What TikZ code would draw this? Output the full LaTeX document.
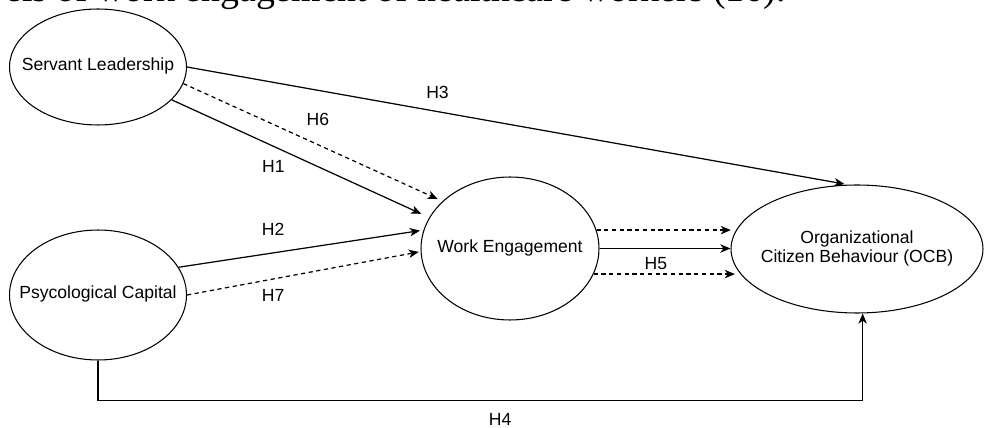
\documentclass[tikz,border=0pt]{standalone}
\usepackage{fontspec}
\setmainfont{Liberation Serif}
\setsansfont{Liberation Sans}
\usepackage{tikz}
\usetikzlibrary{positioning,arrows.meta,shapes.geometric}

% text of a construct, kept out of the ellipse size
\newcommand{\ovaltext}[1]{\makebox[0pt]{\begin{tabular}{@{}c@{}}#1\end{tabular}}}

\begin{document}
\begin{tikzpicture}[
			x=0.02cm, y=-0.02cm,
			>={Stealth[length=5.8pt,width=4.8pt,inset=1.7pt]},
			construct/.style={
				draw,
				ellipse,
				line width=0.6pt,
				inner sep=0pt,
				font=\sffamily\fontsize{10}{11.3}\selectfont
			},
			hyp/.style={
				inner sep=0pt,
				font=\sffamily\fontsize{10}{12}\selectfont
			},
			direct/.style={->,line width=0.7pt},
			med/.style={->,line width=0.7pt,dash pattern=on 2.4pt off 2pt}
			]
			
			\useasboundingbox (0,0) rectangle (986,428);
			\clip (0,0) rectangle (986,428);
			
			%%%%%%%%%%%%%%%%%%%%%%%%%%%%%%%%%%%%%%%%%%%%%%%%%%%%%%%%%%%%
			% Text line above the figure (cut off)
			%%%%%%%%%%%%%%%%%%%%%%%%%%%%%%%%%%%%%%%%%%%%%%%%%%%%%%%%%%%%
			
			\node (caption) [anchor=base east,inner sep=0pt,
			font=\fontsize{21.5}{26}\selectfont] at (786,2)
			{els of work engagement of healthcare workers (16).};
			
			%%%%%%%%%%%%%%%%%%%%%%%%%%%%%%%%%%%%%%%%%%%%%%%%%%%%%%%%%%%%
			% Constructs
			%%%%%%%%%%%%%%%%%%%%%%%%%%%%%%%%%%%%%%%%%%%%%%%%%%%%%%%%%%%%
			
			\node (sl) [construct,minimum width=3.54cm,minimum height=2.32cm] at (98,67)
			{\ovaltext{Servant Leadership}};
			
			\node (pc) [construct,minimum width=3.54cm,minimum height=2.6cm] at (98,295)
			{\ovaltext{Psycological Capital}};
			
			\node (we) [construct,minimum width=3.56cm,minimum height=2.86cm] at (510,248.5)
			{\ovaltext{Work Engagement}};
			
			\node (ocb) [construct,minimum width=5.04cm,minimum height=2.56cm] at (857,249)
			{\ovaltext{Organizational\\Citizen Behaviour (OCB)}};
			
			%%%%%%%%%%%%%%%%%%%%%%%%%%%%%%%%%%%%%%%%%%%%%%%%%%%%%%%%%%%%
			% Connections
			%%%%%%%%%%%%%%%%%%%%%%%%%%%%%%%%%%%%%%%%%%%%%%%%%%%%%%%%%%%%
			
			% Servant Leadership
			
			\draw[direct,shorten >=2pt] (sl.east) -- node[hyp,pos=0.379,above=7.2pt] (h3) {H3} (ocb.98);
			
			\draw[med,shorten >=3pt] (sl.-11) -- node[hyp,pos=0.519,above=10.3pt] (h6) {H6} (we.145);
			
			\draw[direct,shorten >=5pt] (sl.-24) -- node[hyp,pos=0.395,below=7.8pt] (h1) {H1} (we.159);
			
			% Psycological Capital
			
			\draw[direct,shorten >=2pt] (pc.19) -- node[hyp,pos=0.386,above=9.5pt] (h2) {H2} (we.168);
			
			\draw[med,shorten >=1pt] (pc.east) -- node[hyp,pos=0.369,below=5.5pt] (h7) {H7} (we.182);
			
			\draw[direct] (pc.south) -- ++(0,40) -| node[hyp,pos=0.263,below=7.2pt] (h4) {H4} (ocb.-85);
			
			% Work Engagement
			
			\draw[med,shorten >=3pt] (we.12) -- (we.12 -| ocb.171);
			
			\draw[direct] (we.east) -- node[hyp,pos=0.43,below=4.7pt] (h5) {H5} (we.east -| ocb.west);
			
			\draw[med,shorten >=3pt] (we.-17) -- (we.-17 -| ocb.192);
			
			%%%%%%%%%%%%%%%%%%%%%%%%%%%%%%%%%%%%%%%%%%%%%%%%%%%%%%%%%%%%
			
		\end{tikzpicture}
\end{document}
